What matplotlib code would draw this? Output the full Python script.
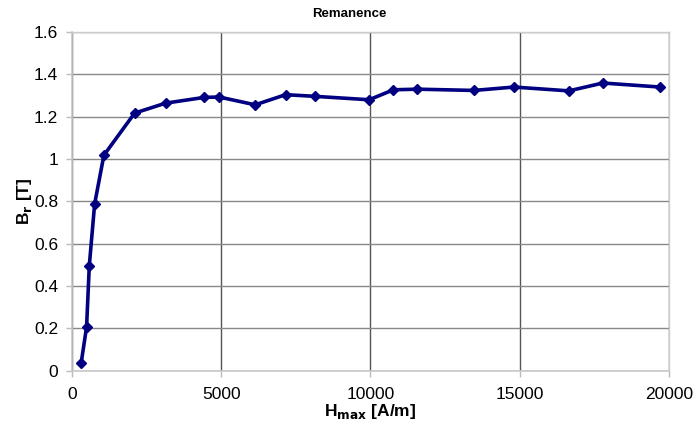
import matplotlib
matplotlib.use("Agg")
import matplotlib.pyplot as plt

plt.rcParams["font.family"] = ["Liberation Sans", "DejaVu Sans"]

# H_max [A/m] vs remanence B_r [T]
h_max = [310, 490, 580, 760, 1070, 2100, 3140, 4430, 4930, 6140, 7160,
         8150, 9960, 10770, 11570, 13470, 14810, 16650, 17790, 19710]
b_r = [0.038, 0.207, 0.495, 0.788, 1.018, 1.217, 1.264, 1.291, 1.293,
       1.256, 1.304, 1.296, 1.280, 1.327, 1.330, 1.324, 1.340, 1.322,
       1.359, 1.340]

x_ticks = [0, 5000, 10000, 15000, 20000]
y_ticks = [0, 0.2, 0.4, 0.6, 0.8, 1.0, 1.2, 1.4, 1.6]
y_labels = ["0", "0.2", "0.4", "0.6", "0.8", "1", "1.2", "1.4", "1.6"]

fig = plt.figure(figsize=(6.94, 4.24), dpi=100)
ax = fig.add_axes([0.1037, 0.1257, 0.86, 0.7988])

ax.plot(h_max, b_r, color="#000080", lw=2.6, marker="D", ms=5,
        mec="#000080", mfc="#000080", zorder=3)

ax.set_xlim(0, 20000)
ax.set_ylim(0, 1.6)
ax.set_xticks(x_ticks)
ax.set_yticks(y_ticks)
ax.set_yticklabels(y_labels)
ax.tick_params(labelsize=12.5, color="#bbbbbb", length=4, width=1)
ax.tick_params(axis="y", pad=6)
ax.tick_params(axis="x", pad=8)

ax.xaxis.grid(True, color="#555555", lw=1.0)
ax.yaxis.grid(True, color="#888888", lw=1.0)
ax.set_axisbelow(True)
for side in ("left", "bottom"):
    ax.spines[side].set_color("#c8c8c8")
    ax.spines[side].set_linewidth(1.2)
for side in ("right", "top"):
    ax.spines[side].set_color("#cccccc")
    ax.spines[side].set_linewidth(1.0)

fig.text(0.504, 0.966, "Remanence", ha="center", va="center",
         fontsize=9.5, fontweight="bold")
ax.set_xlabel(r"H$_{\mathbf{max}}$ [A/m]", fontsize=12.5, fontweight="bold",
              labelpad=0)
ax.set_ylabel(r"B$_{\mathbf{r}}$ [T]", fontsize=12.5, fontweight="bold",
              labelpad=0)

fig.savefig("out.png", dpi=100)
